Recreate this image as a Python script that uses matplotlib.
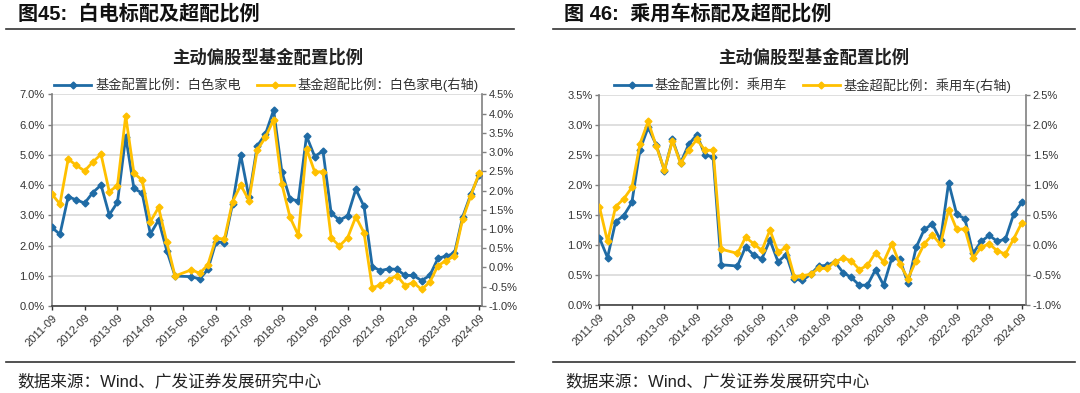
import numpy as np
import pandas as pd
import matplotlib
matplotlib.use("Agg")
import matplotlib.pyplot as plt
from matplotlib.lines import Line2D
from matplotlib.ticker import FuncFormatter

plt.rcParams['font.family'] = ['Liberation Sans', 'Noto Sans CJK SC', 'DejaVu Sans']

# квартальные даты 2011-09 .. 2024-09, точки 2015-09 в исходных данных нет
quarters = pd.period_range("2011Q3", "2024Q3", freq="Q")
quarters = quarters[quarters != pd.Period("2015Q3", freq="Q")]
year_ticks = [str(y) + "-09" for y in range(2011, 2025)]

# 白色家电
bd_weight = [2.60, 2.37, 3.61, 3.51, 3.40, 3.75, 4.00, 3.01, 3.43, 5.60, 3.89, 3.73, 2.38,
             2.84, 1.83, 0.99, 0.97, 0.89, 1.21, 2.13, 2.09, 3.37, 4.99, 3.59, 5.29, 5.68,
             6.48, 4.44, 3.53, 3.48, 5.62, 4.94, 5.13, 3.07, 2.84, 2.98, 3.86, 3.29, 1.30,
             1.17, 1.23, 1.21, 1.01, 1.01, 0.84, 1.01, 1.58, 1.65, 1.74, 2.95, 3.70, 4.33]
bd_over = [1.91, 1.65, 2.82, 2.65, 2.51, 2.74, 2.94, 1.97, 2.13, 3.94, 2.45, 2.27, 1.19,
           1.56, 0.65, -0.22, -0.06, -0.15, 0.07, 0.77, 0.73, 1.71, 2.14, 1.74, 3.05, 3.38,
           3.84, 2.17, 1.30, 0.84, 3.09, 2.48, 2.49, 0.77, 0.56, 0.77, 1.32, 0.90, -0.52,
           -0.46, -0.32, -0.21, -0.47, -0.39, -0.57, -0.38, 0.05, 0.18, 0.30, 1.26, 1.87, 2.45]

# 乘用车
car_weight = [1.12, 0.79, 1.39, 1.49, 1.71, 2.59, 2.96, 2.67, 2.24, 2.76, 2.37, 2.68, 2.84,
              2.50, 2.47, 0.67, 0.65, 0.97, 0.83, 0.77, 1.08, 0.72, 0.84, 0.43, 0.41, 0.51,
              0.65, 0.66, 0.72, 0.54, 0.46, 0.33, 0.33, 0.59, 0.33, 0.78, 0.76, 0.36, 0.96,
              1.26, 1.35, 1.08, 2.04, 1.51, 1.44, 0.86, 1.06, 1.16, 1.06, 1.10, 1.51, 1.71]
car_over = [0.64, 0.06, 0.64, 0.77, 0.96, 1.69, 2.06, 1.65, 1.25, 1.74, 1.36, 1.59, 1.76,
            1.58, 1.58, -0.07, -0.14, 0.13, 0.02, -0.09, 0.25, -0.12, -0.04, -0.53, -0.51,
            -0.49, -0.39, -0.39, -0.28, -0.22, -0.26, -0.41, -0.34, -0.13, -0.28, 0.02, -0.32,
            -0.56, -0.26, 0.02, 0.17, 0.01, 0.59, 0.26, 0.27, -0.22, -0.04, 0.02, -0.10, -0.15,
            0.10, 0.37]

BLUE = "#1F6BA5"
GOLD = "#FFC000"
GRID = "#D9D9D9"
SPINE = "#808080"
TXT = "#333333"

x = np.array([(q - pd.Period("2011Q3", freq="Q")).n for q in quarters])
pct = FuncFormatter(lambda v, _: f"{v:.1f}%")


def panel(rect, weight, over, lab1, lab2, ylim1, ylim2, step1, step2, xmax):
    ax = fig.add_axes(rect)
    ax2 = ax.twinx()  # правая ось рисуется поверх - жёлтая линия сверху, как в оригинале

    ax.plot(x, weight, color=BLUE, lw=2, marker="D", ms=3.5, label=lab1, zorder=3)
    ax2.plot(x, over, color=GOLD, lw=2, marker="D", ms=3.5, label=lab2, zorder=3)

    ax.set_xlim(0, xmax)
    ax.set_ylim(*ylim1)
    ax2.set_ylim(*ylim2)
    ax.set_yticks(np.arange(ylim1[0], ylim1[1] + 1e-9, step1))
    ax2.set_yticks(np.arange(ylim2[0], ylim2[1] + 1e-9, step2))
    ax.yaxis.set_major_formatter(pct)
    ax2.yaxis.set_major_formatter(pct)
    ax.set_xticks(np.arange(0, 53, 4))
    ax.set_xticklabels(year_ticks, rotation=45, ha="right", rotation_mode="anchor")
    ax.grid(axis="y", color=GRID, lw=1.2)
    ax.set_axisbelow(True)

    for a in (ax, ax2):
        a.spines["top"].set_visible(False)
        a.spines["left"].set_color(SPINE)
        a.spines["right"].set_color(SPINE)
        a.spines["bottom"].set_color("#404040")
        a.spines["left"].set_linewidth(1.2)
        a.spines["right"].set_linewidth(1.2)
        a.spines["bottom"].set_linewidth(1.2)
        a.tick_params(labelsize=8, colors=TXT, length=3, width=1, pad=2)
    ax2.spines["bottom"].set_visible(False)
    ax2.spines["left"].set_visible(False)
    ax.spines["right"].set_visible(False)
    ax.tick_params(axis="y", color=SPINE)
    ax2.tick_params(axis="y", color=SPINE)

    h1, l1 = ax.get_legend_handles_labels()
    h2, l2 = ax2.get_legend_handles_labels()
    ax2.legend(h1 + h2, l1 + l2, loc="lower center", bbox_to_anchor=(0.5, 0.985), ncol=2,
               frameon=False, fontsize=9.5, handlelength=2.8, columnspacing=1.2,
               handletextpad=0.3, borderaxespad=0, labelcolor=TXT)
    return ax


fig = plt.figure(figsize=(10.8, 3.93), dpi=100)

panel([0.0479, 0.2214, 0.398, 0.5387], bd_weight, bd_over,
      "基金配置比例：白色家电", "基金超配比例：白色家电(右轴)",
      (0, 7), (-1.0, 4.5), 1.0, 0.5, 52.3)
panel([0.555, 0.224, 0.3948, 0.534], car_weight, car_over,
      "基金配置比例：乘用车", "基金超配比例：乘用车(右轴)",
      (0, 3.5), (-1.0, 2.5), 0.5, 0.5, 52.5)

H = 393.0
W = 1080.0
# заголовки, линии и источник
fig.text(18 / W, 1 - 14 / H, "图45:  白电标配及超配比例", fontsize=14.5, fontweight="bold",
         va="center", ha="left", color="#111111")
fig.text(564 / W, 1 - 14 / H, "图 46:  乘用车标配及超配比例", fontsize=14.5, fontweight="bold",
         va="center", ha="left", color="#111111")
fig.text(268 / W, 1 - 57 / H, "主动偏股型基金配置比例", fontsize=12.5, fontweight="bold",
         va="center", ha="center", color="#222222")
fig.text(814 / W, 1 - 57 / H, "主动偏股型基金配置比例", fontsize=12.5, fontweight="bold",
         va="center", ha="center", color="#222222")
for x0, x1 in [(6, 514), (553, 1075)]:
    for yy in (29, 362):
        fig.add_artist(Line2D([x0 / W, x1 / W], [1 - yy / H, 1 - yy / H],
                              color="#333333", lw=1.2))
fig.text(17 / W, 1 - 381 / H, "数据来源：Wind、广发证券发展研究中心", fontsize=12,
         va="center", ha="left", color="#222222")
fig.text(565 / W, 1 - 381 / H, "数据来源：Wind、广发证券发展研究中心", fontsize=12,
         va="center", ha="left", color="#222222")

fig.savefig("out.png", dpi=100)
